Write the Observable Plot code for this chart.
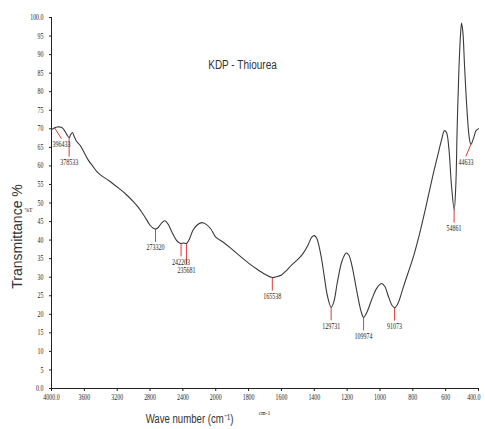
<!DOCTYPE html>
<html><head><meta charset="utf-8">
<script src="https://cdn.jsdelivr.net/npm/d3@7"></script>
<script src="https://cdn.jsdelivr.net/npm/@observablehq/plot@0.6"></script>
<style>body{margin:0;background:#fff} svg{display:block}</style>
</head><body><div id="chart"></div>
<script>
// Spectrum (wavenumber cm-1, %T)
const wavenumber = [4000,3960,3930,3880,3850,3815,3785,3765,3745,3725,3700,3650,3600,3550,3500,3450,3400,3300,3200,3100,3000,2950,2900,2850,2800,2760,2733,2700,2660,2620,2580,2530,2480,2440,2422,2390,2356,2320,2280,2230,2170,2120,2060,2000,1950,1900,1850,1800,1750,1700,1655,1630,1600,1570,1540,1500,1470,1440,1415,1400,1385,1360,1340,1320,1297,1280,1260,1230,1205,1190,1170,1140,1115,1100,1080,1050,1020,990,970,950,925,910,890,860,830,800,760,720,680,650,625,608,595,580,565,548,538,530,520,510,503,495,485,470,456,446,430,415,400];
const transmittance = [69.8,70.3,70.5,70.4,69.8,68.5,67.6,68.5,69.0,68.0,66.8,65.5,63.5,61.5,60.0,58.5,57.5,56.0,54.3,52.5,50.3,49.0,47.5,45.8,44.0,43.2,43.0,43.4,44.6,45.2,44.3,42.0,40.0,39.2,39.1,39.2,39.1,40.3,42.5,44.0,44.7,44.3,43.0,40.8,39.3,37.5,35.6,33.8,32.2,30.8,29.9,30.1,30.6,31.8,33.2,34.8,36.3,38.5,40.8,41.2,40.5,36.0,30.5,25.0,21.9,23.5,28.5,34.5,36.5,36.0,33.0,26.0,20.8,19.2,20.5,24.0,27.0,28.3,27.5,25.0,22.3,21.8,23.0,27.0,31.0,35.0,41.5,49.0,57.0,62.5,67.0,69.5,69.0,64.5,55.0,48.2,55.0,70.0,85.0,95.0,98.5,96.0,87.0,75.0,67.5,65.8,67.5,69.5,70.0];

// Peak annotations
const peakWavenumber = [3964.33,3785.33,2733.20,2422.03,2356.81,1655.38,1297.31,1099.74,910.73,548.61,446.33];
const peakLabel = ["396433","378533","273320","242203","235681","165538","129731","109974","91073","54861","44633"];
const peakTransmittance = [70.3,67.6,43.0,39.1,39.1,29.9,21.9,19.2,21.8,48.2,65.8];

// Axis ticks
const xTicks = [4000,3600,3200,2800,2400,2000,1800,1600,1400,1200,1000,800,600,400];
const xTickLabels = ["4000.0","3600","3200","2800","2400","2000","1800","1600","1400","1200","1000","800","600","400.0"];
const yTicks = [0,5,10,15,20,25,30,35,40,45,50,55,60,65,70,75,80,85,90,95,100];
const yTickLabels = ["0.0","5","10","15","20","25","30","35","40","45","50","55","60","65","70","75","80","85","90","95","100.0"];

const titleText = "KDP - Thiourea";
const yLabelText = "Transmittance %";
const yUnitText = "%T";
const xLabelText = "Wave number (cm\u207B\u00B9)";
const xUnitText = "cm-1";

// ---- layout
const W = 485, H = 429, mL = 51, mR = 7, mT = 17, mB = 41;
const x0 = mL, x1 = W - mR;
// IR convention: 4000–2000 drawn at half the density of 2000–400
const xMid = x0 + (x1 - x0) * (1000 / 2600);
const xDomain = [4000, 2000, 400], xRange = [x0, xMid, x1];
const sx = d3.scaleLinear(xDomain, xRange);
const sy = d3.scaleLinear([0, 100], [H - mB, mT]);
const cx = (x0 + x1) / 2, cy = (mT + H - mB) / 2;

const spectrum = wavenumber.map((w, i) => ({w, t: transmittance[i]}));
const peaks = peakWavenumber.map((w, i) => {
  const lbl = peakLabel[i], t = peakTransmittance[i];
  let dxp = 0, dyp = 13;
  if (lbl === "235681") dyp = 21;
  if (lbl === "378533") dyp = 19;
  if (lbl === "396433") { dxp = 7; dyp = 11; }
  if (lbl === "44633") { dxp = -5; dyp = 12; }
  const px = sx(w) + dxp, py = sy(t) + dyp;
  return {w, t, lbl, w2: sx.invert(px), t2: sy.invert(py)};
});

const serif = "Liberation Serif";
const sans = "Liberation Sans";

const plot = Plot.plot({
  width: W, height: H,
  marginLeft: mL, marginRight: mR, marginTop: mT, marginBottom: mB,
  style: {fontFamily: serif, background: "#fff", color: "#222"},
  x: {type: "linear", domain: xDomain, range: xRange},
  y: {domain: [0, 100]},
  marks: [
    Plot.axisX({ticks: xTicks, tickFormat: d => xTickLabels[xTicks.indexOf(d)], tickSize: 3, tickPadding: 3, fontSize: 8, label: null, className: "cond-x"}),
    Plot.axisY({ticks: yTicks, tickFormat: d => yTickLabels[yTicks.indexOf(d)], tickSize: 2, tickPadding: 6, fontSize: 8, label: null, className: "cond-t"}),
    Plot.ruleX([4000], {y1: 0, y2: 100, stroke: "#222", strokeWidth: 1}),
    Plot.ruleY([0], {stroke: "#222", strokeWidth: 1}),
    Plot.link(peaks, {x1: "w", y1: "t", x2: "w2", y2: "t2", stroke: "#e23a3a", strokeWidth: 1}),
    Plot.line(spectrum, {x: "w", y: "t", stroke: "#3a3a3a", strokeWidth: 1.1, curve: "catmull-rom"}),
    Plot.text(peaks, {x: "w2", y: "t2", text: "lbl", dy: 6, lineAnchor: "middle", fontSize: 7.5, fill: "#222", className: "cond"}),
    Plot.text([titleText], {text: d => d, frameAnchor: "top", textAnchor: "middle", dx: 242 - cx, dy: 51, lineAnchor: "bottom", fontFamily: sans, fontSize: 12.5, fill: "#333", className: "cond"}),
    Plot.text([yLabelText], {text: d => d, frameAnchor: "left", textAnchor: "middle", rotate: -90, dx: 17 - x0, dy: 236 - cy, lineAnchor: "middle", fontFamily: sans, fontSize: 14, fill: "#333"}),
    Plot.text([yUnitText], {text: d => d, frameAnchor: "left", textAnchor: "middle", dx: 28 - x0, dy: 209 - cy, lineAnchor: "middle", fontSize: 7, fill: "#222", className: "cond"}),
    Plot.text([xUnitText], {text: d => d, frameAnchor: "bottom", textAnchor: "middle", dx: 264 - cx, dy: 24, lineAnchor: "middle", fontSize: 7, fill: "#222", className: "cond"}),
    Plot.text([xLabelText], {text: d => d, frameAnchor: "bottom", textAnchor: "middle", dx: 189 - cx, dy: 31, lineAnchor: "middle", fontFamily: sans, fontSize: 12, fill: "#333", className: "cond"})
  ]
});
document.getElementById("chart").appendChild(plot);
// horizontal squeeze of the original raster
function squeeze(sel, k) {
  plot.querySelectorAll(sel).forEach(t => {
    const len = t.getComputedTextLength();
    if (len > 0) {
      t.setAttribute("textLength", (len * k).toFixed(1));
      t.setAttribute("lengthAdjust", "spacingAndGlyphs");
    }
  });
}
// keep the right-most tick label inside the picture
const xLabels = plot.querySelectorAll("g.cond-x text");
if (xLabels.length) {
  const last = xLabels[xLabels.length - 1];
  last.setAttribute("text-anchor", "end");
  last.setAttribute("dx", "2");
}
squeeze("g.cond text", 0.8);
squeeze("g.cond-t text", 0.74);
squeeze("g.cond-x text", 0.74);
</script>
</body></html>
